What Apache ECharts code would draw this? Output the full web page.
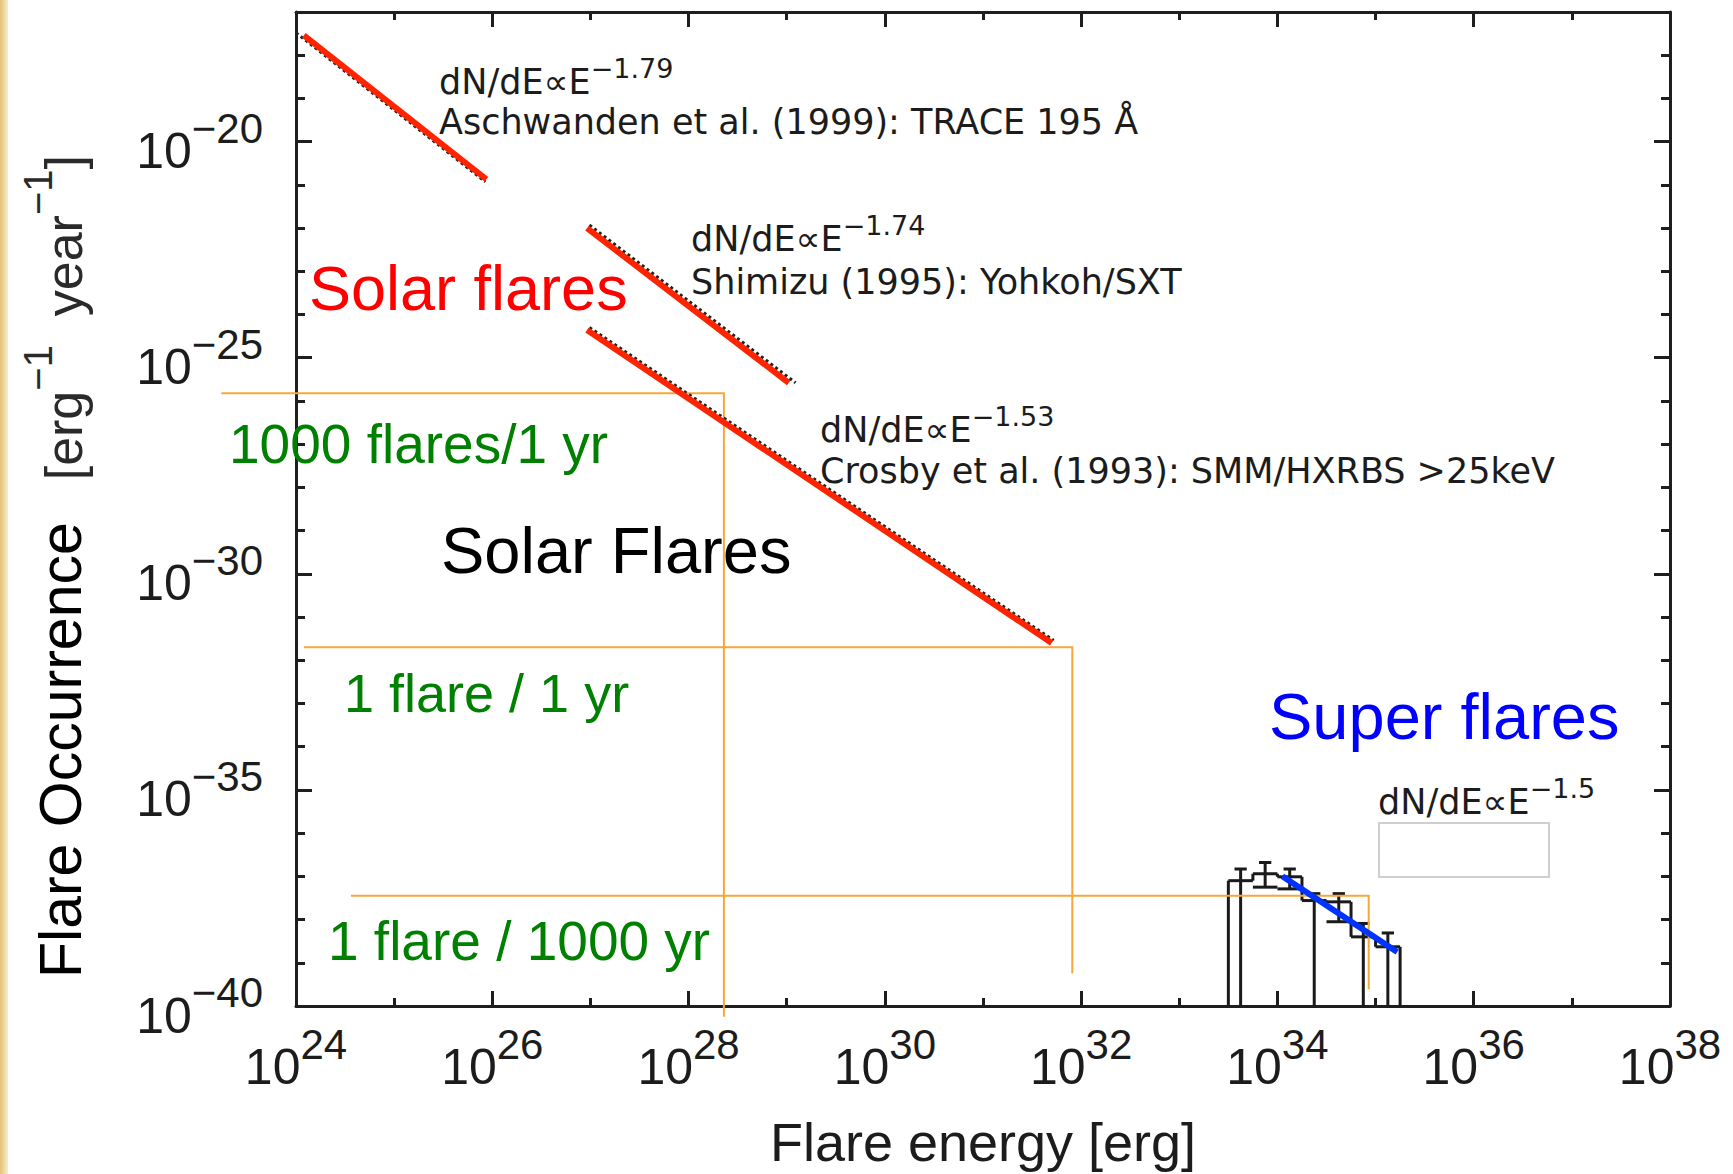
<!DOCTYPE html>
<html>
<head>
<meta charset="utf-8">
<title>Flare occurrence vs flare energy</title>
<script src="https://cdn.jsdelivr.net/npm/echarts@6/dist/echarts.min.js"></script>
<style>
  html, body { margin: 0; padding: 0; background: #ffffff; }
  #chart { width: 1733px; height: 1174px; }
</style>
</head>
<body>
<div id="chart"></div>
<script>
// All values are base-10 exponents: log10 E [erg] and log10 dN/dE [erg^-1 year^-1].

// Axis extents
const X_MIN = 24, X_MAX = 38;
const Y_MIN = -40, Y_MAX = -17;

// Power-law fits of solar flare distributions (red overlay) and the dotted fits beneath them
const traceLogE = [24.08, 25.94];
const traceLogN = [-17.54, -20.87];
const traceFitLogE = [24.0, 25.93];
const traceFitLogN = [-17.48, -20.93];

const sxtLogE = [26.965, 29.02];
const sxtLogN = [-22.00, -25.58];
const sxtFitLogE = [26.99, 29.09];
const sxtFitLogN = [-21.93, -25.58];

const hxrbsLogE = [26.965, 31.70];
const hxrbsLogN = [-24.36, -31.60];
const hxrbsFitLogE = [26.99, 31.72];
const hxrbsFitLogN = [-24.30, -31.54];

// Superflare power law
const superLogE = [34.05, 35.22];
const superLogN = [-37.00, -38.75];

// Superflare histogram: bin edges, bin heights and error bars (null = lower bar reaches zero)
const histEdgesLogE = [33.5, 33.75, 34.0, 34.25, 34.5, 34.75, 35.0, 35.25];
const histLogN     = [-37.10, -36.94, -37.01, -37.56, -37.59, -38.40, -38.63];
const histHighLogN = [-36.83, -36.68, -36.83, -37.40, -37.40, -38.09, -38.31];
const histLowLogN  = [null, -37.25, -37.29, null, -38.05, null, null];

// Occurrence-rate guides: rate level, energy where it meets the spectrum,
// start of the horizontal leg and end of the vertical drop
const rateLevelLogN = [-25.82, -31.70, -37.45];
const rateCrossLogE = [28.36, 31.91, 34.93];
const rateStartLogE = [23.24, 24.08, 24.56];
const rateDropLogN  = [-40.25, -39.24, -39.61];
const rateLabels = ['1000 flares/1 yr', '1 flare / 1 yr', '1 flare / 1000 yr'];

// Fit annotations
const fitIndices = ['\u22121.79', '\u22121.74', '\u22121.53', '\u22121.5'];
const fitSources = [
  'Aschwanden et al. (1999): TRACE 195 \u00C5',
  'Shimizu (1995): Yohkoh/SXT',
  'Crosby et al. (1993): SMM/HXRBS >25keV'
];

const FRAME = '#1e1e1e';
const INK = '#1c1c1c';
const TICK_FONT = '"Liberation Sans", Arial, sans-serif';
const NOTE_FONT = '"DejaVu Sans", sans-serif';
const FIT_RED = '#ff2400';
const GUIDE = '#f5a83a';

const pair = (es, ns) => es.map((e, i) => [e, ns[i]]);

// Superscripts: the exponent token is top-aligned inside a taller line, the base is bottom-aligned
const tickRich = {
  b: { fontFamily: TICK_FONT, fontSize: 50, lineHeight: 50, verticalAlign: 'bottom', color: INK },
  s: { fontFamily: TICK_FONT, fontSize: 42, lineHeight: 69, verticalAlign: 'top', color: INK }
};

const powerRich = {
  a: { fontFamily: NOTE_FONT, fontSize: 35, lineHeight: 35, verticalAlign: 'bottom', fill: INK, color: INK },
  s: { fontFamily: NOTE_FONT, fontSize: 27, lineHeight: 44, verticalAlign: 'top', fill: INK, color: INK }
};

function frameAxis(dim, position, interval, tickLen, withLine, labelCfg) {
  return {
    type: 'value',
    gridIndex: 0,
    position: position,
    min: dim === 'x' ? X_MIN : Y_MIN,
    max: dim === 'x' ? X_MAX : Y_MAX,
    interval: interval,
    axisLine: { show: withLine, onZero: false, lineStyle: { color: FRAME, width: 3 } },
    axisTick: { show: true, inside: true, length: tickLen, lineStyle: { color: FRAME, width: 3 } },
    splitLine: { show: false },
    axisLabel: labelCfg || { show: false },
    axisPointer: { show: false }
  };
}

const xMain = frameAxis('x', 'bottom', 2, 15, true, {
  show: true,
  margin: 17,
  formatter: v => '{b|10}{s|' + v + '}',
  rich: tickRich
});
xMain.name = 'Flare energy [erg]';
xMain.nameLocation = 'middle';
xMain.nameGap = 109;
xMain.nameTextStyle = { fontFamily: TICK_FONT, fontSize: 54, color: INK };

const yMain = frameAxis('y', 'left', 5, 16, true, {
  show: true,
  margin: 33,
  formatter: v => (v % 5 === 0 ? '{b|10}{s|\u2212' + (-v) + '}' : ''),
  rich: tickRich
});

const xAxes = [
  xMain,
  frameAxis('x', 'top', 2, 15, true),
  frameAxis('x', 'bottom', 1, 8, false),
  frameAxis('x', 'top', 1, 8, false)
];
const yAxes = [
  yMain,
  frameAxis('y', 'right', 5, 16, true),
  frameAxis('y', 'left', 1, 9, false),
  frameAxis('y', 'right', 1, 9, false)
];

// Map a value pair to pixels, extending the axis scale linearly past its extent
function extCoord(api, x, y) {
  const o = api.coord([X_MIN, Y_MIN]);
  const ux = api.coord([X_MIN + 1, Y_MIN])[0] - o[0];
  const uy = api.coord([X_MIN, Y_MIN + 1])[1] - o[1];
  return [o[0] + (x - X_MIN) * ux, o[1] + (y - Y_MIN) * uy];
}

// Histogram rows: [left, right, height, errHigh, errLow, hasLowCap, previousHeight, isLast]
const histRows = histLogN.map((v, i) => [
  histEdgesLogE[i],
  histEdgesLogE[i + 1],
  v,
  histHighLogN[i],
  histLowLogN[i] == null ? Y_MIN : histLowLogN[i],
  histLowLogN[i] == null ? 0 : 1,
  i === 0 ? Y_MIN : histLogN[i - 1],
  i === histLogN.length - 1 ? 1 : 0
]);

function renderHistBin(params, api) {
  const x0 = api.value(0), x1 = api.value(1), top = api.value(2);
  const hi = api.value(3), lo = api.value(4), hasLowCap = api.value(5);
  const prev = api.value(6), isLast = api.value(7);
  const xc = (x0 + x1) / 2, half = (x1 - x0) / 4;
  const c = (x, y) => extCoord(api, x, y);
  const seg = (a, b) => ({
    type: 'line',
    shape: { x1: a[0], y1: a[1], x2: b[0], y2: b[1] },
    style: { stroke: '#1a1a1a', lineWidth: 3 }
  });
  const kids = [
    seg(c(x0, prev), c(x0, top)),
    seg(c(x0, top), c(x1, top)),
    seg(c(xc, hi), c(xc, lo)),
    seg(c(xc - half, hi), c(xc + half, hi))
  ];
  if (hasLowCap) kids.push(seg(c(x0, lo), c(x1, lo)));
  if (isLast) kids.push(seg(c(x1, top), c(x1, Y_MIN)));
  return { type: 'group', children: kids };
}

// Guide rows: [startE, level, crossE, dropN]
const guideRows = rateLevelLogN.map((lvl, i) => [rateStartLogE[i], lvl, rateCrossLogE[i], rateDropLogN[i]]);

function renderGuide(params, api) {
  const a = extCoord(api, api.value(0), api.value(1));
  const b = extCoord(api, api.value(2), api.value(1));
  const d = extCoord(api, api.value(2), api.value(3));
  return {
    type: 'polyline',
    shape: { points: [a, b, d] },
    style: { stroke: GUIDE, lineWidth: 2, fill: null }
  };
}

function fitLine(name, es, ns, color, width, type, z) {
  return {
    name: name,
    type: 'line',
    xAxisIndex: 0,
    yAxisIndex: 0,
    data: pair(es, ns),
    symbol: 'none',
    clip: false,
    z: z,
    lineStyle: { color: color, width: width, type: type, cap: 'butt' },
    silent: true
  };
}

function note(x, y, text) {
  return {
    type: 'text',
    x: x,
    y: y,
    z: 15,
    silent: true,
    style: { text: text, fill: INK, fontFamily: NOTE_FONT, fontSize: 35, align: 'left', verticalAlign: 'middle' }
  };
}

function powerNote(x, top, index) {
  return {
    type: 'text',
    x: x,
    y: top,
    z: 15,
    silent: true,
    style: {
      text: '{a|dN/dE\u221DE}{s|' + index + '}',
      rich: powerRich,
      fill: INK,
      align: 'left',
      verticalAlign: 'top'
    }
  };
}

function bigLabel(x, y, text, color, size) {
  return {
    type: 'text',
    x: x,
    y: y,
    z: 15,
    silent: true,
    style: { text: text, fill: color, fontFamily: TICK_FONT, fontSize: size, align: 'left', verticalAlign: 'middle' }
  };
}

const graphics = [
  {
    type: 'rect',
    shape: { x: 0, y: 0, width: 8, height: 1174 },
    z: 1,
    silent: true,
    style: {
      fill: new echarts.graphic.LinearGradient(0, 0, 1, 0, [
        { offset: 0, color: '#e4c36f' },
        { offset: 1, color: '#f7edcf' }
      ])
    }
  },
  {
    type: 'rect',
    shape: { x: 1379, y: 823, width: 170, height: 54 },
    z: 15,
    silent: true,
    style: { fill: '#ffffff', stroke: '#cfcfcf', lineWidth: 2 }
  },
  // fit annotations
  powerNote(439, 55, fitIndices[0]),
  note(439, 122, fitSources[0]),
  powerNote(691, 212, fitIndices[1]),
  note(691, 282, fitSources[1]),
  powerNote(820, 403, fitIndices[2]),
  note(820, 471, fitSources[2]),
  powerNote(1378, 775, fitIndices[3]),
  // region labels
  bigLabel(309, 288, 'Solar flares', '#ff0000', 63),
  bigLabel(441, 550, 'Solar Flares', '#000000', 65),
  bigLabel(1269, 716, 'Super flares', '#0000ff', 65),
  bigLabel(229, 444, rateLabels[0], '#008000', 55),
  bigLabel(344, 693, rateLabels[1], '#008000', 54),
  bigLabel(328, 941, rateLabels[2], '#008000', 55),
  // y-axis title, read bottom to top
  {
    type: 'text',
    x: 61,
    y: 978,
    rotation: Math.PI / 2,
    z: 15,
    silent: true,
    style: { text: 'Flare Occurrence', fill: '#000000', fontFamily: TICK_FONT, fontSize: 59, align: 'left', verticalAlign: 'middle' }
  },
  {
    type: 'text',
    x: 54,
    y: 155,
    rotation: Math.PI / 2,
    z: 15,
    silent: true,
    style: {
      text: '{b|[erg}{s|\u22121}{b|  year}{s|\u22121}{b|]}',
      rich: {
        b: { fontFamily: TICK_FONT, fontSize: 52, lineHeight: 52, verticalAlign: 'bottom', fill: '#2a2a2a', color: '#2a2a2a' },
        s: { fontFamily: TICK_FONT, fontSize: 40, lineHeight: 72, verticalAlign: 'top', fill: '#2a2a2a', color: '#2a2a2a' }
      },
      align: 'right',
      verticalAlign: 'middle'
    }
  }
];

const option = {
  animation: false,
  backgroundColor: '#ffffff',
  grid: { left: 296, right: 63, top: 12, bottom: 161, containLabel: false },
  xAxis: xAxes,
  yAxis: yAxes,
  graphic: graphics,
  series: [
    {
      name: 'Superflare histogram',
      type: 'custom',
      xAxisIndex: 0,
      yAxisIndex: 0,
      renderItem: renderHistBin,
      data: histRows,
      encode: { x: [0, 1], y: [2, 3] },
      clip: false,
      z: 10,
      silent: true
    },
    {
      name: 'Occurrence-rate guides',
      type: 'custom',
      xAxisIndex: 0,
      yAxisIndex: 0,
      renderItem: renderGuide,
      data: guideRows,
      encode: { x: [0, 2], y: [1, 3] },
      clip: false,
      z: 20,
      silent: true
    },
    fitLine('TRACE fit', traceFitLogE, traceFitLogN, '#222222', 3, 'dotted', 22),
    fitLine('SXT fit', sxtFitLogE, sxtFitLogN, '#222222', 3, 'dotted', 22),
    fitLine('HXRBS fit', hxrbsFitLogE, hxrbsFitLogN, '#222222', 3, 'dotted', 22),
    fitLine('TRACE', traceLogE, traceLogN, FIT_RED, 6, 'solid', 25),
    fitLine('SXT', sxtLogE, sxtLogN, FIT_RED, 6, 'solid', 25),
    fitLine('HXRBS', hxrbsLogE, hxrbsLogN, FIT_RED, 6, 'solid', 25),
    fitLine('Superflares', superLogE, superLogN, '#0033ff', 6, 'solid', 25)
  ]
};

const chart = echarts.init(document.getElementById('chart'), null, { renderer: 'svg' });
chart.setOption(option);
</script>
</body>
</html>
